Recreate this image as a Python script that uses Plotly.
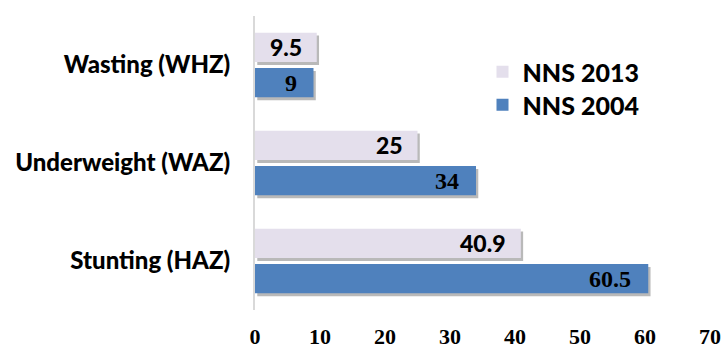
import plotly.graph_objects as go

categories = ["Stunting (HAZ)", "Underweight (WAZ)", "Wasting (WHZ)"]
nns_2013 = [40.9, 25, 9.5]
nns_2004 = [60.5, 34, 9]
x_ticks = [0, 10, 20, 30, 40, 50, 60, 70]

LIGHT = "#e4dfec"
BLUE = "#4f81bd"
SHADOW = "rgba(70,70,70,0.38)"
BAR_W = 0.30
OFF_2013 = 0.03
OFF_2004 = -0.33
SHADOW_DY = 0.03

fig = go.Figure()

# soft drop shadows under each bar
for vals, off in ((nns_2004, OFF_2004), (nns_2013, OFF_2013)):
    fig.add_trace(go.Bar(
        y=categories, x=vals, orientation="h", base=0.35,
        width=BAR_W, offset=off - SHADOW_DY,
        marker=dict(color=SHADOW, line=dict(width=0)),
        showlegend=False, hoverinfo="skip",
    ))

fig.add_trace(go.Bar(
    y=categories, x=nns_2004, orientation="h", name="NNS 2004",
    width=BAR_W, offset=OFF_2004, legend="legend2",
    marker=dict(color=BLUE, line=dict(width=0)),
))
fig.add_trace(go.Bar(
    y=categories, x=nns_2013, orientation="h", name="NNS 2013",
    width=BAR_W, offset=OFF_2013, legend="legend",
    marker=dict(color=LIGHT, line=dict(width=0)),
))

# value labels near the end of each bar
mid = BAR_W / 2
for i, v in enumerate(nns_2013):
    fig.add_annotation(x=v, y=i + OFF_2013 + mid, text=f"{v:g}", showarrow=False,
                       xanchor="right", xshift=-14, borderpad=0,
                       font=dict(family="Lato", size=23, color="#000000", weight=900))
for i, v in enumerate(nns_2004):
    fig.add_annotation(x=v, y=i + OFF_2004 + mid, text=f"{v:g}", showarrow=False,
                       xanchor="right", xshift=-16, borderpad=0,
                       font=dict(family="Liberation Serif", size=24, color="#000000", weight="bold"))

legend_font = dict(family="Lato", size=25, color="#000000", weight=900)
legend_common = dict(xanchor="left", yanchor="middle", font=legend_font,
                     bgcolor="rgba(0,0,0,0)", itemwidth=30)

fig.update_layout(
    width=728, height=349,
    margin=dict(l=255, r=18, t=16, b=39, autoexpand=False),
    paper_bgcolor="white", plot_bgcolor="white",
    barmode="overlay",
    showlegend=True,
    legend=dict(x=0.5, y=1 - (72 - 16) / 294, **legend_common),
    legend2=dict(x=0.5, y=1 - (105 - 16) / 294, **legend_common),
    xaxis=dict(
        range=[0, 70], tickvals=x_ticks, showgrid=False, zeroline=False,
        showline=False, ticks="", ticklabelstandoff=11, automargin=False,
        tickfont=dict(family="Liberation Serif", size=22, color="#000000", weight="bold"),
        fixedrange=True,
    ),
    yaxis=dict(
        type="category", categoryorder="array", categoryarray=categories,
        range=[-0.5, 2.5], showgrid=False, zeroline=False, automargin=False,
        showline=True, linecolor="#d9d9d9", linewidth=2, ticks="",
        ticklabelstandoff=18,
        tickfont=dict(family="Lato", size=24, color="#000000", weight=900),
    ),
)

fig.write_html("out.html")
